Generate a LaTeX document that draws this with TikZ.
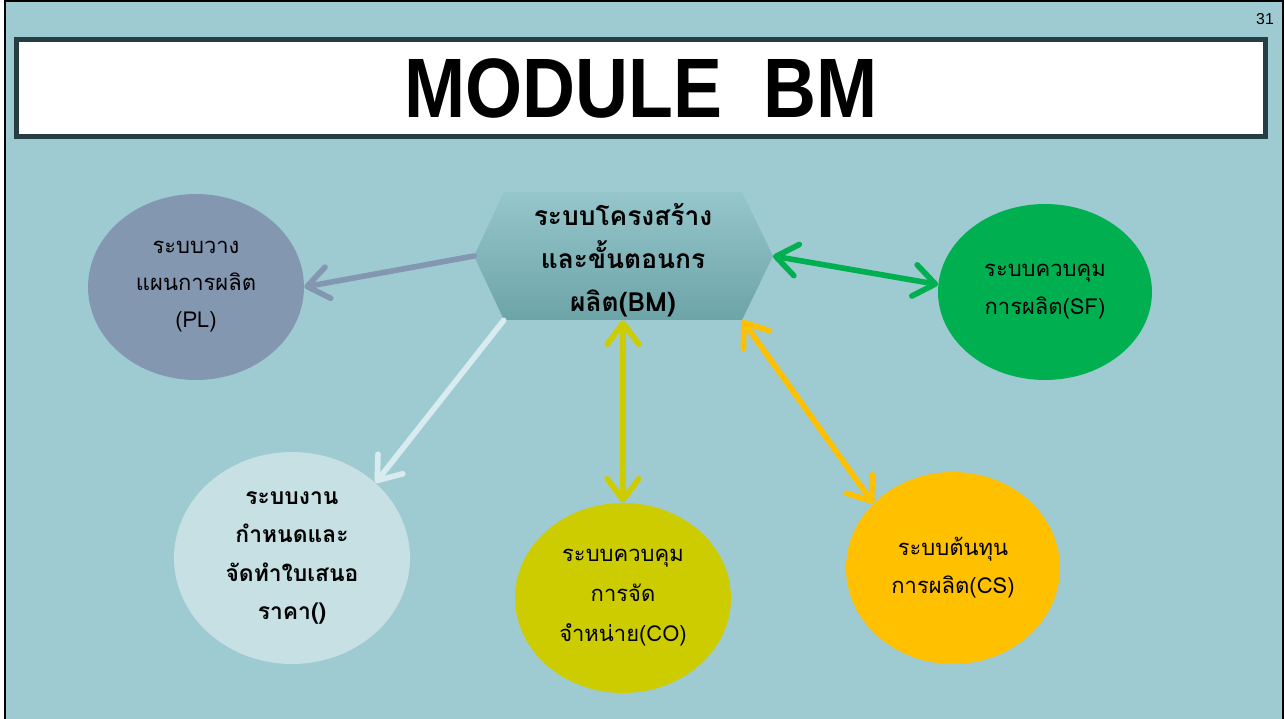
\documentclass[tikz,border=0pt]{standalone}
\usepackage{fontspec}
\setmainfont{Liberation Sans}
\newfontfamily\titlefont[FakeStretch=0.87]{Liberation Sans}
\newfontfamily\thaifont[Script=Thai]{Loma}
\usetikzlibrary{shapes.geometric,arrows.meta}

\definecolor{slidebg}{HTML}{9ECBD1}
\definecolor{titleedge}{HTML}{263E43}
\definecolor{hextop}{HTML}{95C6CB}
\definecolor{hexbot}{HTML}{6DA4A8}
\definecolor{plcol}{HTML}{8497B0}
\definecolor{sfcol}{HTML}{00B050}
\definecolor{qtcol}{HTML}{C6E0E4}
\definecolor{qtline}{HTML}{D8ECEF}
\definecolor{cocol}{HTML}{CCCC00}
\definecolor{cscol}{HTML}{FFC000}

\tikzset{
  sys/.style={ellipse, inner sep=0pt, align=center, text=black},
  link/.style={line width=3.2pt, line cap=round},
  >={Straight Barb[length=12pt,width=18pt,round]},
}

\begin{document}
\begin{tikzpicture}[x=0.02cm, y=-0.02cm]
\useasboundingbox (0,0) rectangle (1285,719);
\clip (0,0) rectangle (1285,719);
\draw[line width=1.2pt, fill=slidebg] (5,1) rectangle (1283,740);

% title bar
\node[draw=titleedge, line width=2.83pt, fill=white, minimum width=24.98cm, minimum height=1.94cm,
  font=\titlefont\bfseries\fontsize{48}{50}\selectfont] (title) at (641,88) {MODULE~~BM};
\node[font=\fontsize{9}{10}\selectfont] (page) at (1265,19) {31};

% centre hexagon
\coordinate (hexL) at (474,256);
\coordinate (hexR) at (773,256);
\shade[top color=hextop, bottom color=hexbot]
  (504,192) -- (742,192) -- (hexR) -- (742,320) -- (504,320) -- (hexL) -- cycle;
\node[inner sep=0pt, minimum width=4.76cm, minimum height=2.56cm, align=center,
  font=\thaifont\bfseries\fontsize{15}{24.4}\selectfont] (bm) at (623,256)
  {\mbox{}\\[-7pt]ระบบโครงสร้าง\\และขั้นตอนกร\\ผลิต(BM)};

% systems
\node[sys, fill=plcol, minimum width=4.32cm, minimum height=3.72cm,
  font=\thaifont\fontsize{12.5}{21}\selectfont] (pl) at (196,287) {ระบบวาง\\แผนการผลิต\\(PL)};
\node[sys, fill=sfcol, minimum width=4.28cm, minimum height=3.52cm,
  font=\thaifont\fontsize{12.5}{21.5}\selectfont] (sf) at (1045,292) {ระบบควบคุม\\การผลิต(SF)};
\node[sys, fill=qtcol, minimum width=4.72cm, minimum height=4.24cm,
  font=\thaifont\bfseries\fontsize{13}{22}\selectfont] (qt) at (292,558) {ระบบงาน\\กำหนดและ\\จัดทำใบเสนอ\\ราคา()};
\node[sys, fill=cocol, minimum width=4.32cm, minimum height=3.8cm,
  font=\thaifont\fontsize{12.5}{22.7}\selectfont] (co) at (623,598) {ระบบควบคุม\\การจัด\\จำหน่าย(CO)};
\node[sys, fill=cscol, minimum width=4.28cm, minimum height=3.84cm,
  font=\thaifont\fontsize{12.5}{21.5}\selectfont] (cs) at (953,568) {ระบบต้นทุน\\การผลิต(CS)};

% links
\draw[link, plcol, ->] (hexL) -- (pl.east);
\draw[link, qtline, ->] (bm.south west) -- (qt.42);
\draw[link, sfcol, <->] (hexR) -- (sf.176);
\draw[link, cocol, <->] (bm.south) -- (co.north);
\draw[link, cscol, <->] (bm.south east) -- (cs.141);
\end{tikzpicture}
\end{document}
